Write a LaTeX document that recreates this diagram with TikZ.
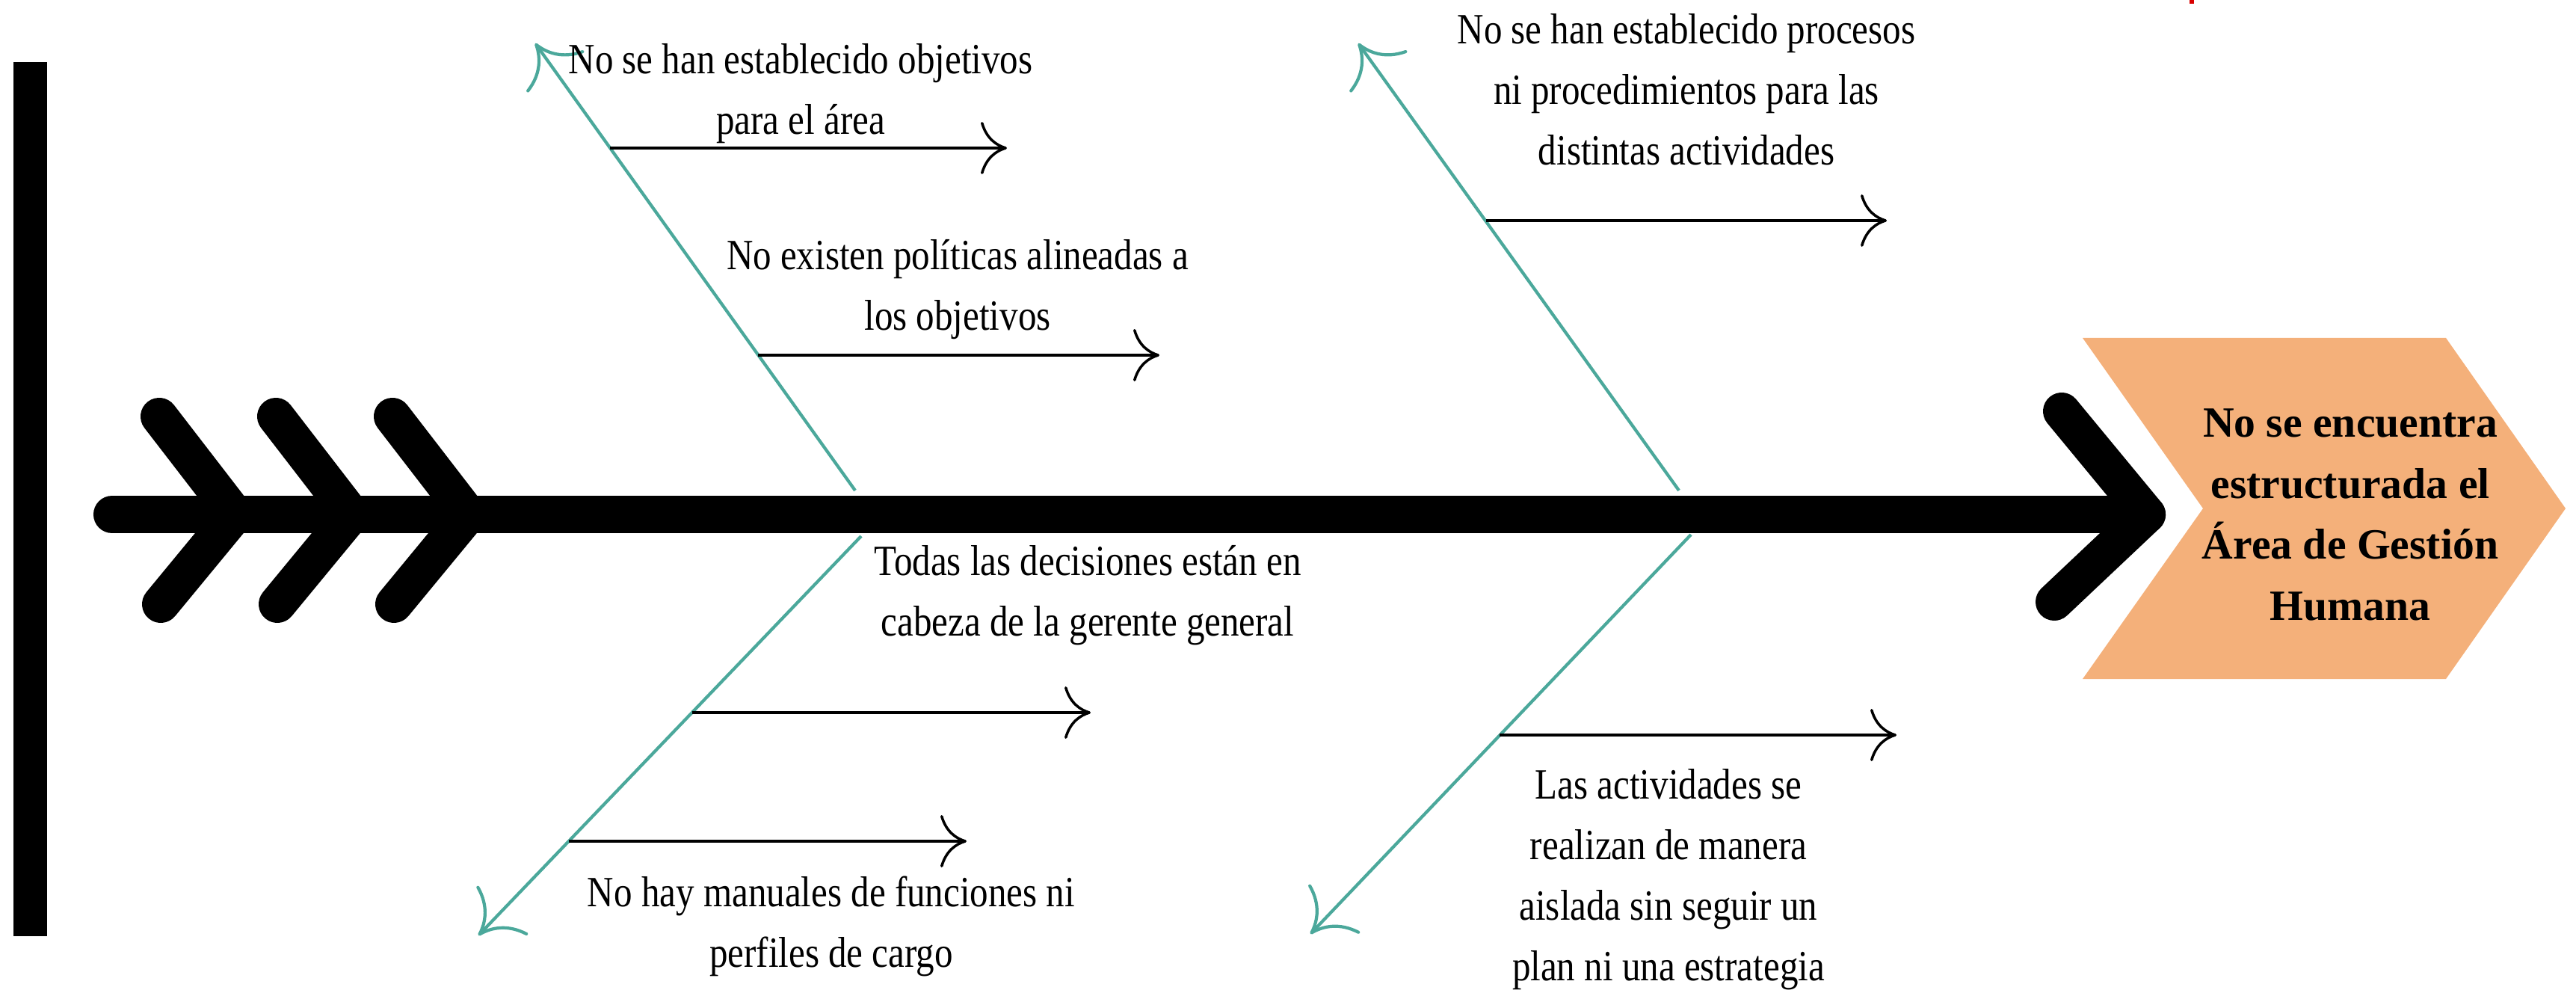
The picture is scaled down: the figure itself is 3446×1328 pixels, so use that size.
\documentclass[tikz,border=0pt]{standalone}
\usepackage{fontspec}
\setmainfont{Liberation Serif}
\newfontfamily\narrowserif{Liberation Serif}[FakeStretch=0.85]
\usetikzlibrary{arrows.meta}

\definecolor{boneteal}{HTML}{4BA89B}
\definecolor{headorange}{HTML}{F4B07A}

\tikzset{
	bone/.style={boneteal, line width=1.2pt, -{Computer Modern Rightarrow[length=4.8mm, width=9.4mm, line width=1.2pt]}},
	causearrow/.style={black, line width=1pt, -{Computer Modern Rightarrow[length=3.5mm, width=7mm, line width=1pt]}},
	spinestroke/.style={black, line width=5mm, line cap=round, line join=round},
	causetext/.style={font=\narrowserif\fontsize{16.4}{23}\selectfont, align=center, inner sep=0pt, anchor=north},
	headtext/.style={font=\bfseries\fontsize{16.4}{23.2}\selectfont, align=center, inner sep=0pt, anchor=north}
}

\begin{document}
\begin{tikzpicture}[x=0.01cm, y=-0.01cm]
		\useasboundingbox (0,0) rectangle (3446,1328);
		%left bar
			\fill (18,83) rectangle (63,1252);
			\fill[red!85!black] (2929,0) rectangle (2935,5);
		%head
			\fill[headorange] (2786,452) -- (3272,452) -- (3432,680) -- (3272,908) -- (2786,908) -- (2947,680) -- cycle;
			\node[headtext] (head) at (3144,546) {No se encuentra\\estructurada el\\Área de Gestión\\Humana};
		%spine + chevrons
			\coordinate (tail) at (150,688);
			\coordinate (neck) at (2872,688);
			\coordinate (barbup) at (2758,550);
			\coordinate (barbdown) at (2748,805);
			\draw[spinestroke] (tail) -- (neck);
			\draw[spinestroke] (barbup) -- (neck) -- (barbdown);
			\foreach \dx in {0,156,312}
				\draw[spinestroke] (213+\dx,557) -- (314+\dx,688) -- (215+\dx,808);
		%bones
			\coordinate (bone1s) at (1144,656); \coordinate (bone1e) at (716,58);
			\coordinate (bone2s) at (2246,656); \coordinate (bone2e) at (1817,58);
			\coordinate (bone3s) at (1152,717); \coordinate (bone3e) at (640,1251);
			\coordinate (bone4s) at (2262,715); \coordinate (bone4e) at (1753,1249);
			\draw[bone] (bone1s) -- (bone1e);
			\draw[bone] (bone2s) -- (bone2e);
			\draw[bone] (bone3s) -- (bone3e);
			\draw[bone] (bone4s) -- (bone4e);
		%cause arrows
			\coordinate (c1s) at (816,198); \coordinate (c1e) at (1347,198);
			\coordinate (c2s) at (1014,475); \coordinate (c2e) at (1551,475);
			\coordinate (c3s) at (1988,295); \coordinate (c3e) at (2524,295);
			\coordinate (c4s) at (926,953); \coordinate (c4e) at (1459,953);
			\coordinate (c5s) at (761,1125); \coordinate (c5e) at (1293,1125);
			\coordinate (c6s) at (2006,983); \coordinate (c6e) at (2537,983);
			\draw[causearrow] (c1s) -- (c1e);
			\draw[causearrow] (c2s) -- (c2e);
			\draw[causearrow] (c3s) -- (c3e);
			\draw[causearrow] (c4s) -- (c4e);
			\draw[causearrow] (c5s) -- (c5e);
			\draw[causearrow] (c6s) -- (c6e);
		%labels
			\node[causetext] (objetivos) at (1071,58) {No se han establecido objetivos\\para el área};
			\node[causetext] (politicas) at (1281,320) {No existen políticas alineadas a\\los objetivos};
			\node[causetext] (procesos) at (2256,18) {No se han establecido procesos\\ni procedimientos para las\\distintas actividades};
			\node[causetext] (decisiones) at (1455,729) {Todas las decisiones están en\\cabeza de la gerente general};
			\node[causetext] (manuales) at (1112,1171) {No hay manuales de funciones ni\\perfiles de cargo};
			\node[causetext] (actividades) at (2232,1028) {Las actividades se\\realizan de manera\\aislada sin seguir un\\plan ni una estrategia};
	\end{tikzpicture}
\end{document}
